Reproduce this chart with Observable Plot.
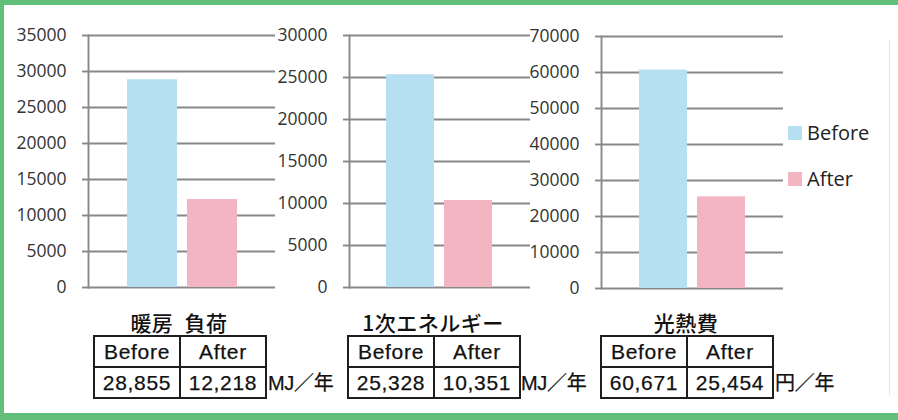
<!DOCTYPE html>
<html>
<head>
<meta charset="utf-8">
<script src="https://cdn.jsdelivr.net/npm/d3@7"></script>
<script src="https://cdn.jsdelivr.net/npm/@observablehq/plot@0.6"></script>
<style>
  html, body { margin: 0; padding: 0; background: #fff; }
  #wrap { position: relative; width: 898px; height: 420px; overflow: hidden; background: #fff; }
  .gb { position: absolute; background: #62bf79; }
  .panel { position: absolute; top: 0; }
  .title { position: absolute; font-family: "Noto Sans CJK JP", sans-serif; font-weight: 500; font-size: 21px; color: #111; text-align: center; white-space: nowrap; line-height: 22px; word-spacing: 6px; letter-spacing: 0.5px; }
  table.vals { position: absolute; border-collapse: collapse; font-family: "Liberation Sans", "Noto Sans CJK JP", sans-serif; font-size: 21px; color: #111; letter-spacing: 0.7px; -webkit-text-stroke: 0.25px #111; }
  table.vals td { border: 2px solid #1e1e1e; width: 84px; height: 29px; padding: 0; text-align: center; line-height: 29px; }
  .unit { position: absolute; font-family: "Liberation Sans", "Noto Sans CJK JP", sans-serif; font-size: 20px; color: #111; white-space: nowrap; line-height: 24px; letter-spacing: -0.3px; -webkit-text-stroke: 0.25px #111; }
  .leg { position: absolute; font-family: "Open Sans", sans-serif; font-size: 20px; color: #222; line-height: 20px; }
  .sw { position: absolute; width: 14px; height: 14px; }
</style>
</head>
<body>
<div id="wrap"></div>
<script>
// ---- data ----
const categories = ["暖房 負荷", "1次エネルギー", "光熱費"];
const seriesNames = ["Before", "After"];
const beforeValues = [28855, 25328, 60671];
const afterValues = [12218, 10351, 25454];
const yMaxima = [35000, 30000, 70000];
const yTickSteps = [5000, 5000, 10000];
const units = ["MJ／年", "MJ／年", "円／年"];
const seriesColors = ["#b6dff1", "#f2b5c1"];

// ---- layout ----
const wrap = document.getElementById("wrap");
const panelLeft = [0, 261, 513];
const panelTop = [0, 0, 1];
const frameWidth = [187, 181, 182];
const tableLeft = [93, 347, 600];
const unitLeft = [268, 521, 775];

function addDiv(cls, styles, text) {
  const d = document.createElement("div");
  d.className = cls;
  Object.assign(d.style, styles);
  if (text != null) d.textContent = text;
  wrap.appendChild(d);
  return d;
}

categories.forEach((cat, i) => {
  const data = seriesNames.map((s, j) => ({series: s, value: j === 0 ? beforeValues[i] : afterValues[i]}));
  const ticks = d3.range(0, yMaxima[i] + 1, yTickSteps[i]);
  const mL = 88, mR = 5, mT = 35, mB = 13;
  const chart = Plot.plot({
    width: mL + frameWidth[i] + mR,
    height: mT + 252 + mB,
    marginLeft: mL, marginRight: mR, marginTop: mT, marginBottom: mB,
    style: {background: "transparent", fontFamily: "'Open Sans', sans-serif", fontSize: "17.5px", color: "#333", overflow: "visible"},
    x: {domain: seriesNames, paddingInner: 0.17, paddingOuter: 0.64, axis: null},
    y: {domain: [0, yMaxima[i]], ticks: ticks},
    color: {domain: seriesNames, range: seriesColors},
    marks: [
      Plot.ruleY(ticks, {stroke: "#888", strokeWidth: 1.9}),
      Plot.frame({anchor: "left", stroke: "#888", strokeWidth: 1.9}),
      Plot.axisY(ticks, {tickSize: 6, tickPadding: 16, stroke: "#888", strokeWidth: 1.9, tickFormat: d => String(d), fill: "#333", label: null}),
      Plot.barY(data, {x: "series", y: "value", fill: "series"})
    ]
  });
  chart.classList.add("panel");
  chart.style.position = "absolute";
  chart.style.left = panelLeft[i] + "px";
  chart.style.top = panelTop[i] + "px";
  wrap.appendChild(chart);

  // title + table + unit
  const tl = tableLeft[i];
  addDiv("title", {left: (tl - 20) + "px", width: "212px", top: "311px"}, cat);
  const t = document.createElement("table");
  t.className = "vals";
  t.style.left = tl + "px";
  t.style.top = "335px";
  const r1 = t.insertRow(), r2 = t.insertRow();
  seriesNames.forEach(s => { r1.insertCell().textContent = s; });
  [beforeValues[i], afterValues[i]].forEach(v => { r2.insertCell().textContent = v.toLocaleString("en-US"); });
  wrap.appendChild(t);
  addDiv("unit", {left: unitLeft[i] + "px", top: "371px"}, units[i]);
});

// legend
const legTop = [126, 172];
seriesNames.forEach((s, j) => {
  addDiv("sw", {left: "788px", top: legTop[j] + "px", background: seriesColors[j]});
  addDiv("leg", {left: "807px", top: (legTop[j] - 3) + "px"}, s);
});

// green frame
addDiv("gb", {left: "0px", top: "0px", width: "898px", height: "5px"});
addDiv("gb", {left: "0px", top: "0px", width: "4px", height: "420px"});
addDiv("gb", {left: "0px", top: "413px", width: "898px", height: "7px"});
addDiv("gb", {left: "889px", top: "40px", width: "1px", height: "355px", background: "#e4e4e4"});
</script>
</body>
</html>
